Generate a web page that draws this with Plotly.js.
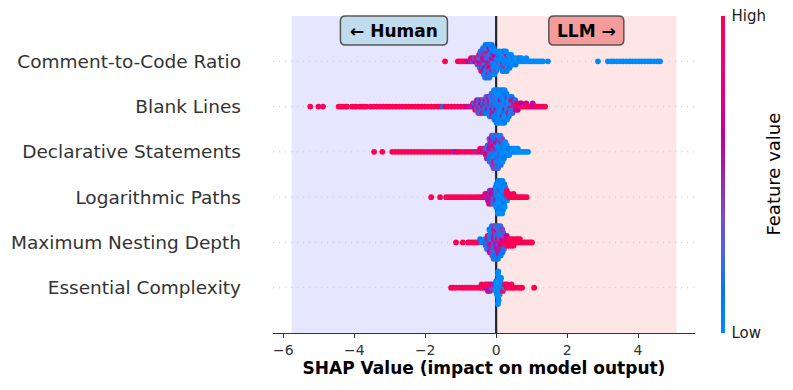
<!DOCTYPE html>
<html><head><meta charset="utf-8">
<script src="https://cdn.plot.ly/plotly-3.0.1.min.js"></script>
<style>html,body{margin:0;padding:0;background:#fff}</style>
</head><body><div id="chart" style="width:793px;height:390px"></div>
<script>
// Feature names, top row first
const features = ["Comment-to-Code Ratio","Blank Lines","Declarative Statements","Logarithmic Paths","Maximum Nesting Depth","Essential Complexity"];
const xTickVals = [-6,-4,-2,0,2,4];
const xTickText = ["\u22126","\u22124","\u22122","0","2","4"];

// SHAP values and normalised feature values (0 = low, 1 = high)
const shapComment = [
 -1.44, -1.08, -1.02, -0.96, -0.90, -0.84, -0.78, -0.72, -0.71, -0.66, -0.65,
 -0.60, -0.61,
 -0.54, -0.55, -0.53,
 -0.48, -0.49, -0.47, -0.48, -0.46,
 -0.42, -0.43, -0.41, -0.42, -0.40, -0.44, -0.42,
 -0.36, -0.37, -0.35, -0.36, -0.38, -0.34, -0.36, -0.37, -0.35,
 -0.30, -0.31, -0.29, -0.30, -0.32, -0.28, -0.30, -0.31, -0.29, -0.30, -0.31,
 -0.24, -0.25, -0.23, -0.24, -0.26, -0.22, -0.24, -0.25, -0.23, -0.24, -0.25,
 -0.18, -0.19, -0.17, -0.18, -0.20, -0.16, -0.18, -0.19, -0.17, -0.18, -0.19,
 -0.12, -0.13, -0.11, -0.12, -0.14, -0.10, -0.12, -0.13, -0.11, -0.12,
 -0.06, -0.07, -0.05, -0.06, -0.08, -0.04, -0.06, -0.07, -0.05,
 0.00, 0.01, -0.01, 0.00, 0.02, -0.02, 0.00,
 0.06, 0.05, 0.07, 0.06, 0.04,
 0.12, 0.11, 0.13, 0.12, 0.14, 0.10,
 0.18, 0.17, 0.19, 0.18, 0.16, 0.20, 0.18,
 0.24, 0.25, 0.23, 0.24, 0.26, 0.22, 0.24,
 0.30, 0.29, 0.31, 0.30, 0.32, 0.28, 0.30,
 0.36, 0.37, 0.35, 0.36, 0.38,
 0.42, 0.41, 0.43, 0.42,
 0.48, 0.49, 0.47,
 0.54, 0.53, 0.55,
 0.60, 0.61,
 0.66, 0.67,
 0.72, 0.71,
 0.78,
 0.84, 0.85,
 0.90, 0.96, 1.02, 1.08, 1.14, 1.20, 1.26, 1.32,
 1.46, 2.87,
 3.15, 3.24, 3.32, 3.41, 3.50, 3.58, 3.67, 3.76, 3.84, 3.93, 4.02, 4.10, 4.19, 4.28, 4.36, 4.45, 4.54, 4.62
];
const featComment = [
 1.0, 1.0, 0.95, 1.0, 0.9, 0.85, 0.6, 0.5, 0.9, 0.4, 0.7,
 0.6, 0.35,
 0.5, 0.9, 0.3,
 0.7, 0.2, 0.5, 1.0, 0.3,
 0.6, 0.3, 0.8, 0.1, 0.5, 0.2, 0.9,
 0.5, 0.7, 0.2, 0.9, 0.1, 0.4, 0.6, 0.1, 0.2,
 0.8, 0.5, 0.2, 0.1, 0.6, 0.9, 0.1, 0.3, 0.0, 0.1, 0.2,
 0.6, 0.2, 0.9, 0.4, 0.1, 0.7, 0.3, 0.0, 0.5, 0.1, 0.1,
 0.9, 0.1, 0.5, 0.3, 0.7, 0.1, 0.2, 0.6, 0.0, 0.1, 0.2,
 0.4, 0.7, 0.1, 0.2, 0.8, 0.1, 0.5, 0.0, 0.2, 0.1,
 0.2, 0.5, 0.1, 0.6, 0.0, 0.1, 0.3, 0.1, 0.0,
 0.1, 0.3, 0.0, 0.6, 0.1, 0.0, 0.2,
 0.1, 0.0, 0.4, 0.1, 0.0,
 0.0, 0.1, 0.0, 0.2, 0.1, 0.0,
 0.1, 0.0, 0.9, 0.0, 0.1, 0.0, 0.1,
 0.0, 0.1, 0.0, 0.0, 1.0, 0.1, 0.0,
 0.1, 0.0, 0.1, 0.8, 0.0, 0.0, 0.1,
 0.0, 0.1, 0.0, 0.0, 0.1,
 0.0, 0.0, 0.1, 0.0,
 0.0, 0.1, 0.0,
 0.0, 0.0, 0.1,
 0.0, 0.0,
 0.0, 0.1,
 0.0, 0.0,
 0.0,
 0.0, 0.0,
 0, 0, 0, 0, 0, 0, 0, 0,
 0, 0,
 0, 0, 0, 0, 0, 0, 0, 0, 0, 0, 0, 0, 0, 0, 0, 0, 0, 0
];

const shapBlank = [
 -5.24, -5.01, -4.88,
 -4.44, -4.38, -4.32, -4.26, -4.20,
 -4.06, -4.00, -3.94,
 -3.84, -3.78, -3.72, -3.66,
 -3.54, -3.45, -3.36, -3.27, -3.18, -3.09, -3.00, -2.91, -2.82, -2.73, -2.64, -2.55, -2.46, -2.37, -2.28, -2.19, -2.10,
 -2.01, -1.92, -1.83, -1.74, -1.65, -1.57, -1.50, -1.43, -1.35, -1.26, -1.17, -1.08, -0.99, -0.90, -0.84, -0.78, -0.72,
 -0.66, -0.65,
 -0.60, -0.61, -0.59,
 -0.54, -0.55, -0.53, -0.54,
 -0.48, -0.49, -0.47, -0.48, -0.50,
 -0.42, -0.43, -0.41, -0.42, -0.44,
 -0.36, -0.37, -0.35, -0.36, -0.38,
 -0.30, -0.31, -0.29, -0.30, -0.32, -0.28,
 -0.24, -0.25, -0.23, -0.24, -0.26, -0.22,
 -0.18, -0.19, -0.17, -0.18, -0.20, -0.16, -0.18,
 -0.12, -0.13, -0.11, -0.12, -0.14, -0.10, -0.12, -0.13,
 -0.06, -0.07, -0.05, -0.06, -0.08, -0.04, -0.06, -0.07, -0.05, -0.06,
 0.00, 0.01, -0.01, 0.00, 0.02, -0.02, 0.00, 0.01, -0.01, 0.00, 0.01,
 0.06, 0.05, 0.07, 0.06, 0.04, 0.08, 0.06, 0.05, 0.07, 0.06, 0.05,
 0.12, 0.11, 0.13, 0.12, 0.10, 0.14, 0.12, 0.11, 0.13, 0.12, 0.11,
 0.18, 0.17, 0.19, 0.18, 0.16, 0.20, 0.18, 0.17, 0.19, 0.18, 0.17,
 0.24, 0.23, 0.25, 0.24, 0.22, 0.26, 0.24, 0.23, 0.25, 0.24, 0.23,
 0.30, 0.29, 0.31, 0.30, 0.28, 0.32, 0.30, 0.29, 0.31,
 0.36, 0.35, 0.37, 0.36, 0.34, 0.38, 0.36,
 0.42, 0.41, 0.43, 0.42, 0.40, 0.44,
 0.48, 0.47, 0.49, 0.48, 0.46,
 0.54, 0.53, 0.55, 0.54,
 0.60, 0.59, 0.61,
 0.66, 0.67,
 0.72, 0.71,
 0.78,
 0.84, 0.85,
 0.90, 0.96, 1.02, 1.03, 1.08, 1.14, 1.20, 1.26, 1.32, 1.38
];
const featBlank = [
 1.0, 1.0, 0.95,
 1.0, 1.0, 0.9, 1.0, 1.0,
 1.0, 0.95, 1.0,
 1.0, 1.0, 0.9, 1.0,
 1.0, 0.95, 1.0, 1.0, 0.9, 1.0, 1.0, 0.95, 1.0, 1.0, 0.9, 1.0, 1.0, 1.0, 0.95, 1.0, 1.0,
 0.9, 1.0, 1.0, 0.95, 1.0, 1.0, 0.1, 1.0, 0.9, 1.0, 1.0, 0.95, 0.8, 1.0, 0.6, 0.9, 0.5,
 0.5, 0.9,
 0.6, 0.2, 1.0,
 0.4, 0.8, 0.1, 0.6,
 0.5, 0.2, 0.9, 0.1, 0.4,
 0.3, 0.6, 0.1, 0.8, 0.2,
 0.6, 0.1, 0.4, 0.2, 0.9,
 0.2, 0.5, 0.1, 0.7, 0.1, 0.3,
 0.4, 0.1, 0.6, 0.2, 0.1, 0.5,
 0.1, 0.5, 0.2, 0.8, 0.1, 0.3, 0.0,
 0.3, 0.1, 0.6, 0.0, 0.2, 0.1, 0.5, 0.1,
 0.1, 0.4, 0.0, 0.2, 0.7, 0.1, 0.0, 0.3, 0.1, 0.0,
 0.2, 0.0, 0.5, 0.1, 0.0, 0.3, 0.1, 0.0, 0.1, 0.0, 0.1,
 0.0, 0.1, 0.4, 0.0, 0.1, 0.0, 0.2, 0.0, 0.0, 0.1, 0.0,
 0.1, 0.0, 0.0, 0.6, 0.0, 0.1, 0.0, 0.0, 0.1, 0.0, 0.0,
 0.0, 0.3, 0.0, 0.1, 0.0, 0.0, 0.5, 0.0, 0.0, 0.1, 0.0,
 0.1, 0.0, 0.7, 0.0, 0.1, 0.0, 0.0, 0.2, 0.0, 0.0, 0.1,
 0.0, 0.2, 0.0, 0.1, 0.0, 0.5, 0.0, 0.1, 0.0,
 0.3, 0.0, 0.1, 0.0, 0.8, 0.0, 0.1,
 0.6, 0.0, 0.2, 0.9, 0.0, 0.1,
 0.8, 0.4, 0.0, 0.7, 0.2,
 0.9, 0.5, 0.7, 0.1,
 0.8, 1.0, 0.6,
 0.9, 0.7,
 1.0, 0.6,
 0.8,
 1.0, 0.7,
 0.9, 1.0, 0.8, 0.6, 0.7, 1.0, 0.9, 1.0, 0.8, 1.0
];

const shapDecl = [
 -3.44, -3.21,
 -2.93, -2.84, -2.75, -2.66, -2.57, -2.48, -2.39, -2.30, -2.21, -2.12, -2.03, -1.94, -1.85, -1.76, -1.67, -1.58,
 -1.49, -1.40, -1.31, -1.22, -1.15, -1.08, -0.99, -0.90, -0.81, -0.72, -0.64, -0.56, -0.50, -0.45, -0.41,
 -0.36, -0.35,
 -0.30, -0.31, -0.29,
 -0.24, -0.25, -0.23, -0.24, -0.26,
 -0.18, -0.19, -0.17, -0.18, -0.20, -0.16, -0.18, -0.19,
 -0.12, -0.13, -0.11, -0.12, -0.14, -0.10, -0.12, -0.13, -0.11, -0.12,
 -0.06, -0.07, -0.05, -0.06, -0.08, -0.04, -0.06, -0.07, -0.05, -0.06, -0.07,
 0.00, 0.01, -0.01, 0.00, 0.02, -0.02, 0.00, 0.01, -0.01, 0.00, 0.01,
 0.06, 0.05, 0.07, 0.06, 0.04, 0.08, 0.06, 0.05, 0.07, 0.06, 0.05,
 0.12, 0.11, 0.13, 0.12, 0.10, 0.14, 0.12, 0.11, 0.13, 0.12,
 0.18, 0.17, 0.19, 0.18, 0.16, 0.20, 0.18, 0.17,
 0.24, 0.23, 0.25, 0.24, 0.22, 0.26,
 0.30, 0.29, 0.31, 0.30,
 0.36, 0.35, 0.37,
 0.42, 0.43, 0.48, 0.49, 0.54, 0.55, 0.60, 0.61, 0.66, 0.72, 0.78, 0.84, 0.90
];
const featDecl = [
 1.0, 1.0,
 1.0, 1.0, 0.95, 1.0, 1.0, 0.9, 1.0, 1.0, 1.0, 0.95, 1.0, 1.0, 0.9, 1.0, 1.0, 1.0,
 0.95, 1.0, 1.0, 0.9, 0.55, 1.0, 1.0, 0.95, 0.85, 1.0, 0.9, 0.5, 1.0, 0.9, 0.6,
 0.5, 0.9,
 0.6, 0.4, 1.0,
 0.5, 0.3, 0.7, 0.2, 0.5,
 0.4, 0.6, 0.2, 0.5, 0.1, 0.7, 0.3, 0.4,
 0.3, 0.5, 0.1, 0.8, 0.2, 0.4, 0.1, 0.6, 0.3, 0.4,
 0.2, 0.4, 0.1, 0.6, 0.0, 0.3, 0.9, 0.1, 0.5, 0.2, 0.4,
 0.1, 0.5, 0.0, 0.3, 0.1, 0.7, 0.0, 0.2, 0.4, 0.1, 0.3,
 0.0, 0.2, 0.1, 0.0, 0.4, 0.1, 0.0, 0.6, 0.1, 0.3, 0.2,
 0.1, 0.0, 0.3, 0.0, 0.1, 0.8, 0.0, 0.1, 0.2, 0.0,
 0.0, 0.1, 0.0, 0.2, 0.0, 0.1, 0.0, 0.4,
 0.0, 0.1, 0.0, 0.0, 0.1, 0.0,
 0.0, 0.0, 0.1, 0.0,
 0.0, 0.1, 0.0,
 0.0, 0.1, 0.0, 0.0, 0.1, 0.0, 0.0, 0.0, 0.0, 0.0, 0.0, 0.0, 0.0
];

const shapLog = [
 -1.83, -1.58, -1.41, -1.33, -1.25, -1.17, -1.09, -1.01, -0.93, -0.85, -0.77, -0.69, -0.61, -0.53, -0.46, -0.40, -0.35,
 -0.30, -0.31,
 -0.24, -0.25, -0.23,
 -0.18, -0.19, -0.17, -0.18, -0.20,
 -0.12, -0.13, -0.11, -0.12, -0.14,
 -0.06, -0.07, -0.05, -0.06, -0.08,
 0.00, 0.01, -0.01, 0.00, 0.02, -0.02, 0.00, 0.01,
 0.06, 0.05, 0.07, 0.06, 0.04, 0.08, 0.06, 0.05, 0.07, 0.06, 0.05,
 0.12, 0.11, 0.13, 0.12, 0.10, 0.14, 0.12, 0.11, 0.13, 0.12, 0.11,
 0.18, 0.17, 0.19, 0.18, 0.16, 0.20, 0.18, 0.17, 0.19, 0.18, 0.17,
 0.24, 0.23, 0.25, 0.24, 0.22, 0.26, 0.24, 0.23,
 0.30, 0.29, 0.31, 0.30,
 0.36, 0.37, 0.42, 0.48, 0.49, 0.54, 0.60, 0.66, 0.72, 0.78, 0.86
];
const featLog = [
 1.0, 1.0, 1.0, 0.95, 1.0, 1.0, 0.9, 1.0, 1.0, 0.95, 1.0, 1.0, 0.9, 1.0, 0.95, 0.85, 0.7,
 0.6, 0.9,
 0.5, 0.7, 0.55,
 0.55, 0.5, 0.6, 0.45, 0.8,
 0.5, 0.6, 0.45, 0.55, 0.5,
 0.4, 0.5, 0.1, 0.55, 0.2,
 0.1, 0.0, 0.5, 0.0, 0.1, 0.0, 0.0, 0.1,
 0.0, 0.1, 0.0, 0.3, 0.0, 0.1, 0.0, 0.0, 0.1, 0.0, 0.0,
 0.1, 0.0, 0.0, 0.1, 0.0, 0.0, 0.1, 0.0, 0.0, 0.1, 0.0,
 0.0, 0.1, 0.2, 0.0, 0.0, 0.1, 0.0, 0.0, 0.1, 0.0, 0.0,
 0.0, 0.1, 0.0, 0.0, 0.1, 0.0, 0.0, 0.1,
 0.1, 1.0, 0.0, 0.9,
 1.0, 0.9, 1.0, 0.95, 1.0, 1.0, 1.0, 0.95, 1.0, 1.0, 1.0
];

const shapNest = [
 -1.13, -0.94, -0.79, -0.72, -0.65, -0.58, -0.51, -0.45, -0.40, -0.35,
 -0.30, -0.31, -0.29,
 -0.24, -0.25, -0.23, -0.24, -0.26,
 -0.18, -0.19, -0.17, -0.18, -0.20, -0.16, -0.18, -0.19,
 -0.12, -0.13, -0.11, -0.12, -0.14, -0.10, -0.12, -0.13, -0.11, -0.12,
 -0.06, -0.07, -0.05, -0.06, -0.08, -0.04, -0.06, -0.07, -0.05, -0.06, -0.07,
 0.00, 0.01, -0.01, 0.00, 0.02, -0.02, 0.00, 0.01, -0.01, 0.00, 0.01,
 0.06, 0.05, 0.07, 0.06, 0.04, 0.08, 0.06, 0.05, 0.07, 0.06, 0.05,
 0.12, 0.11, 0.13, 0.12, 0.10, 0.14, 0.12, 0.11, 0.13, 0.12,
 0.18, 0.17, 0.19, 0.18, 0.16, 0.20, 0.18, 0.17,
 0.24, 0.23, 0.25, 0.24, 0.22,
 0.30, 0.29, 0.31, 0.30,
 0.36, 0.35, 0.37,
 0.42, 0.41, 0.43,
 0.48, 0.47, 0.49,
 0.54, 0.55,
 0.60, 0.61,
 0.66, 0.67,
 0.72, 0.78, 0.84, 0.90, 0.96, 1.01
];
const featNest = [
 1.0, 1.0, 1.0, 0.95, 1.0, 1.0, 0.9, 0.1, 0.0, 0.1,
 0.1, 0.0, 0.4,
 0.2, 0.5, 0.1, 0.9, 0.0,
 0.5, 0.1, 0.7, 0.2, 0.4, 0.0, 0.6, 0.1,
 0.6, 0.3, 0.9, 0.1, 0.5, 0.2, 0.4, 0.0, 0.3, 0.1,
 0.4, 0.8, 0.2, 0.5, 0.1, 0.6, 0.3, 0.9, 0.1, 0.4, 0.2,
 0.7, 0.3, 0.5, 0.1, 0.9, 0.4, 0.2, 0.6, 0.1, 0.3, 0.0,
 0.5, 1.0, 0.2, 0.4, 0.7, 0.1, 0.5, 0.3, 0.8, 0.2, 0.1,
 0.9, 0.4, 0.6, 0.2, 0.5, 0.1, 0.7, 0.3, 0.1, 0.2,
 0.8, 0.6, 1.0, 0.3, 0.5, 0.2, 0.1, 0.4,
 1.0, 0.7, 0.9, 0.4, 0.2,
 1.0, 0.8, 1.0, 0.6,
 1.0, 0.9, 1.0,
 1.0, 1.0, 0.9,
 0.9, 1.0, 1.0,
 1.0, 1.0,
 1.0, 0.95,
 1.0, 1.0,
 1.0, 1.0, 0.95, 1.0, 1.0, 1.0
];

const shapEss = [
 -1.27, -1.20, -1.13, -1.03, -0.95, -0.87, -0.79, -0.71, -0.63, -0.55, -0.47,
 -0.42, -0.41,
 -0.36,
 -0.30, -0.31,
 -0.24, -0.25, -0.23,
 -0.18, -0.19, -0.17,
 -0.12, -0.13,
 -0.06, -0.07,
 0.00, 0.01, -0.01, 0.00, 0.02,
 0.06, 0.05, 0.07, 0.06, 0.04, 0.08, 0.06, 0.05, 0.07, 0.06, 0.05,
 0.12, 0.11, 0.13, 0.12, 0.10, 0.14,
 0.18, 0.17, 0.19,
 0.24, 0.25,
 0.30, 0.31, 0.36, 0.42, 0.43, 0.48, 0.54, 0.62, 0.68, 0.73, 1.07
];
const featEss = [
 1.0, 1.0, 0.95, 1.0, 1.0, 0.9, 1.0, 1.0, 0.95, 1.0, 1.0,
 1.0, 0.9,
 0.95,
 0.6, 1.0,
 0.5, 0.9, 0.6,
 0.55, 1.0, 0.5,
 0.4, 0.6,
 0.3, 0.5,
 0.0, 0.0, 0.0, 0.0, 0.0,
 0, 0, 0, 0, 0, 0, 0, 0, 0, 0, 0,
 0, 0, 0, 0, 0, 0,
 0.0, 0.0, 1.0,
 0.0, 1.0,
 1.0, 0.9, 1.0, 1.0, 0.9, 1.0, 1.0, 1.0, 0.95, 1.0, 1.0
];

// ---- layout helpers (beeswarm placement, like shap's) ----
function swarmOffsets(xs, step, half) {
  const q = xs.map(v => Math.round(v / step));
  const idx = xs.map((_, i) => i).sort((a, b) => (q[a] - q[b]) || (a - b));
  const ys = new Array(xs.length).fill(0);
  let layer = 0, last = null;
  for (const i of idx) {
    if (q[i] !== last) layer = 0;
    ys[i] = Math.ceil(layer / 2) * ((layer % 2) * 2 - 1);
    layer++; last = q[i];
  }
  const m = Math.max(...ys.map(Math.abs)) || 1;
  return ys.map(y => y * half / m);
}

const rows = [
  {pos: 5, x: shapComment, c: featComment},
  {pos: 4, x: shapBlank, c: featBlank},
  {pos: 3, x: shapDecl, c: featDecl},
  {pos: 2, x: shapLog, c: featLog},
  {pos: 1, x: shapNest, c: featNest},
  {pos: 0, x: shapEss, c: featEss}
];

const allX = [], allY = [], allC = [];
rows.slice().reverse().forEach(r => {
  const off = swarmOffsets(r.x, 0.06, 0.36);
  r.x.forEach((v, i) => { allX.push(v); allY.push(r.pos + off[i]); allC.push(r.c[i]); });
});

const xmin = Math.min(...allX), xmax = Math.max(...allX);
const spanL = 1.1 * xmin, spanR = 1.1 * xmax;

const redBlue = [
  [0, 'rgb(0,139,251)'], [0.125, 'rgb(0,120,243)'], [0.25, 'rgb(75,99,227)'],
  [0.375, 'rgb(125,73,203)'], [0.5, 'rgb(156,35,172)'], [0.625, 'rgb(194,0,156)'],
  [0.75, 'rgb(224,0,134)'], [0.875, 'rgb(245,0,109)'], [1, 'rgb(255,0,81)']
];

const FONT = 'DejaVu Sans, Verdana, sans-serif';

const trace = {
  type: 'scatter', mode: 'markers', x: allX, y: allY, hoverinfo: 'skip', showlegend: false,
  marker: {
    size: 5.8, color: allC, colorscale: redBlue, cmin: 0, cmax: 1, line: {width: 0},
    showscale: true,
    colorbar: {
      thickness: 4, thicknessmode: 'pixels', len: 1, lenmode: 'fraction',
      x: 1.0616, xanchor: 'left', xpad: 0, y: 0, yanchor: 'bottom', ypad: 0,
      outlinewidth: 0, tickvals: [0, 1], ticktext: ['Low', 'High'],
      ticks: 'outside', ticklen: 4, tickwidth: 1, tickcolor: 'rgba(0,0,0,0)',
      tickfont: {family: FONT, size: 15, color: '#222'},
      title: {text: ''}
    }
  }
};

function roundRect(w, h, r) {
  const x0 = -w / 2, x1 = w / 2, y0 = -h / 2, y1 = h / 2;
  return `M${x0 + r},${y0} L${x1 - r},${y0} Q${x1},${y0} ${x1},${y0 + r} L${x1},${y1 - r} Q${x1},${y1} ${x1 - r},${y1} ` +
         `L${x0 + r},${y1} Q${x0},${y1} ${x0},${y1 - r} L${x0},${y0 + r} Q${x0},${y0} ${x0 + r},${y0} Z`;
}

const boxY = 0.954;
const shapes = [
  {type: 'rect', xref: 'x', yref: 'paper', x0: spanL, x1: 0, y0: 0, y1: 1, fillcolor: '#e6e6ff', line: {width: 0}, layer: 'below'},
  {type: 'rect', xref: 'x', yref: 'paper', x0: 0, x1: spanR, y0: 0, y1: 1, fillcolor: '#ffe6e6', line: {width: 0}, layer: 'below'}
];
for (let p = 0; p < features.length; p++) {
  shapes.push({type: 'line', xref: 'paper', yref: 'y', x0: 0, x1: 1, y0: p, y1: p, line: {color: '#cccccc', width: 1, dash: '1px,5px'}, layer: 'below'});
}
shapes.push({type: 'line', xref: 'x', yref: 'paper', x0: 0, x1: 0, y0: 0, y1: 1, line: {color: '#262626', width: 2.2}, layer: 'below'});
shapes.push({type: 'path', xref: 'x', yref: 'paper', xsizemode: 'pixel', ysizemode: 'pixel', xanchor: spanL / 2, yanchor: boxY,
  path: roundRect(107, 29, 5), fillcolor: '#c0dcec', line: {color: '#555', width: 1.5}, layer: 'above'});
shapes.push({type: 'path', xref: 'x', yref: 'paper', xsizemode: 'pixel', ysizemode: 'pixel', xanchor: spanR / 2, yanchor: boxY,
  path: roundRect(75, 29, 5), fillcolor: '#f39c9b', line: {color: '#555', width: 1.5}, layer: 'above'});

const layout = {
  width: 793, height: 390,
  margin: {l: 273, r: 98, t: 16, b: 57, pad: 0},
  paper_bgcolor: '#fff', plot_bgcolor: '#fff',
  font: {family: FONT, color: '#333'},
  xaxis: {
    range: [-6.29, 5.605], tickvals: xTickVals, ticktext: xTickText,
    ticks: 'outside', ticklen: 4, tickwidth: 1, tickcolor: '#333',
    showline: true, linecolor: '#333', linewidth: 1, zeroline: false, showgrid: false,
    tickfont: {family: FONT, size: 14, color: '#333'},
    title: {text: '<b>SHAP Value (impact on model output)</b>', font: {family: FONT, size: 17, color: '#000'}, standoff: 4}
  },
  yaxis: {
    range: [-1, 6], tickvals: [5, 4, 3, 2, 1, 0], ticktext: features,
    ticks: '', showline: false, zeroline: false, showgrid: false, ticklabelstandoff: 31,
    tickfont: {family: FONT, size: 18.5, color: '#333'}
  },
  shapes: shapes,
  annotations: [
    {xref: 'x', yref: 'paper', x: spanL / 2, y: boxY, xanchor: 'center', yanchor: 'middle', showarrow: false,
     text: '<b>\u2190 Human</b>', font: {family: FONT, size: 17, color: '#000'}},
    {xref: 'x', yref: 'paper', x: spanR / 2, y: boxY, xanchor: 'center', yanchor: 'middle', showarrow: false,
     text: '<b>LLM \u2192</b>', font: {family: FONT, size: 17, color: '#000'}},
    {xref: 'paper', yref: 'paper', x: 1.185, y: 0.5, xanchor: 'center', yanchor: 'middle', showarrow: false,
     textangle: -90, text: 'Feature value', font: {family: FONT, size: 18, color: '#000'}}
  ]
};

Plotly.newPlot('chart', [trace], layout, {displayModeBar: false, staticPlot: true});
</script>
</body></html>
